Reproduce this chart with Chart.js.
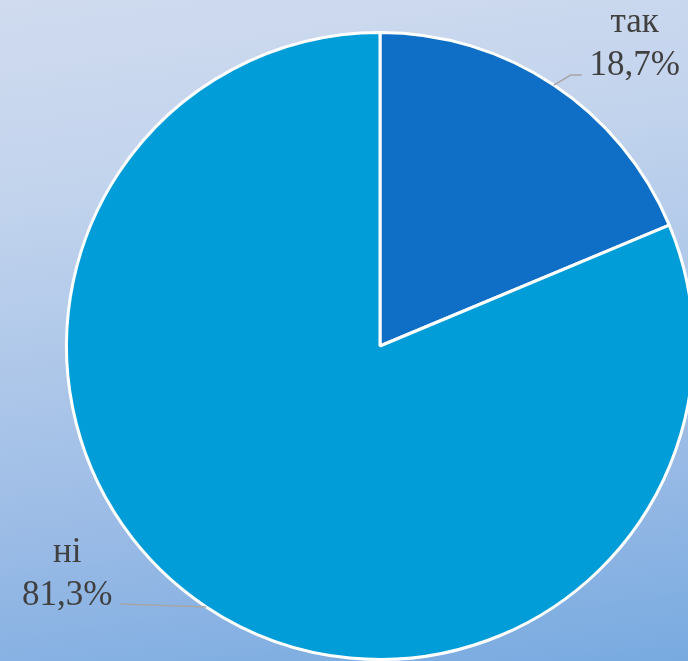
<!DOCTYPE html>
<html>
<head>
<meta charset="utf-8">
<script src="https://cdn.jsdelivr.net/npm/chart.js@4"></script>
<style>
  html, body {
    margin: 0;
    padding: 0;
    width: 688px;
    height: 661px;
    overflow: hidden;
    background: linear-gradient(172deg, #d0dbef 0%, #c3d4ed 25%, #b2caea 45%, #9cbce6 70%, #78aae0 100%);
  }
  #wrap {
    position: absolute;
    left: 0;
    top: 0;
    width: 760px;
    height: 692px;
  }
  .lbl {
    position: absolute;
    transform: translateX(-50%);
    font-family: "Liberation Serif", "Times New Roman", serif;
    font-size: 35px;
    line-height: 43px;
    color: #404040;
    text-align: center;
    white-space: nowrap;
  }
</style>
</head>
<body>
<div id="wrap"><canvas id="pie"></canvas></div>
<script>
// дані ==========================
const categories = ["так", "ні"];
const values = [18.7, 81.3];
const valueLabels = ["18,7%", "81,3%"];
const sliceColors = ["#0f6fc6", "#009dd9"];

// підписи з виносками (лінії на canvas, текст поверх)
const leaderLabels = {
  id: "leaderLabels",
  afterDatasetsDraw(chart) {
    const ctx = chart.ctx;
    const meta = chart.getDatasetMeta(0);
    meta.data.forEach(function (arc, i) {
      const p = arc.getProps(["x", "y", "startAngle", "endAngle", "outerRadius"], true);
      const mid = (p.startAngle + p.endAngle) / 2;
      const ax = p.x + Math.cos(mid) * p.outerRadius;
      const ay = p.y + Math.sin(mid) * p.outerRadius;
      const right = Math.cos(mid) >= 0;
      ctx.save();
      ctx.strokeStyle = "#a6a6a6";
      ctx.lineWidth = 1.5;
      ctx.beginPath();
      ctx.moveTo(ax, ay);
      let tx, ty;
      if (right) {
        ctx.lineTo(ax + 17, ay - 10);
        ctx.lineTo(ax + 28, ay - 10);
        tx = ax + 81;
        ty = ay - 10;
      } else {
        ctx.lineTo(ax - 86, ay - 3);
        tx = ax - 139;
        ty = ay - 2;
      }
      ctx.stroke();
      ctx.restore();

      let el = document.getElementById("lbl" + i);
      if (!el) {
        el = document.createElement("div");
        el.id = "lbl" + i;
        el.className = "lbl";
        const a = document.createElement("div");
        a.textContent = categories[i];
        const b = document.createElement("div");
        b.textContent = valueLabels[i];
        el.appendChild(a);
        el.appendChild(b);
        document.body.appendChild(el);
      }
      // друга базова лінія ~76px від верху блоку
      el.style.left = tx + "px";
      el.style.top = (ty - 76) + "px";
    });
  },
};

new Chart(document.getElementById("pie"), {
  type: "pie",
  data: {
    labels: categories,
    datasets: [
      {
        data: values,
        backgroundColor: sliceColors,
        borderColor: "#ffffff",
        borderWidth: 3,
      },
    ],
  },
  options: {
    responsive: true,
    maintainAspectRatio: false,
    animation: false,
    layout: { padding: 31 },
    plugins: {
      legend: { display: false },
      tooltip: { enabled: false },
    },
  },
  plugins: [leaderLabels],
});
</script>
</body>
</html>
